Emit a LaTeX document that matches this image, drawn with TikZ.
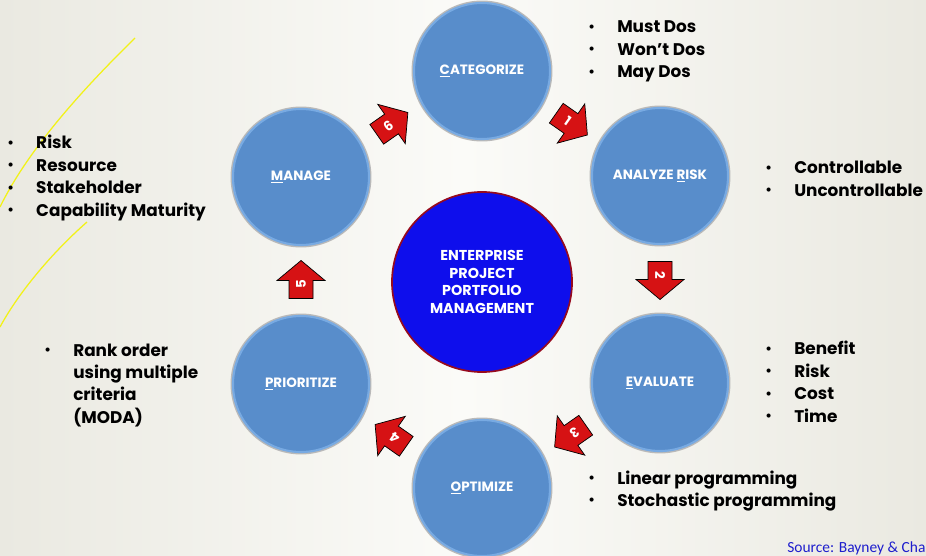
\documentclass[tikz,border=0pt]{standalone}
\usepackage{fontspec}
\setmainfont{Poppins}
\newfontfamily\srcfont{Carlito}
\usetikzlibrary{calc, positioning}

\definecolor{circblue}{RGB}{88,141,203}
\definecolor{circrim}{RGB}{120,170,226}
\definecolor{hubblue}{RGB}{14,14,236}
\definecolor{hubrim}{RGB}{150,10,30}
\definecolor{arrowred}{RGB}{214,18,20}
\definecolor{bgedge}{RGB}{234,233,225}
\definecolor{bgmid}{RGB}{251,251,248}
\definecolor{srcblue}{RGB}{30,30,205}
\definecolor{marker}{RGB}{242,242,24}

\newcommand{\notedot}{\raisebox{0.15ex}{\fontsize{9.5}{9.5}\selectfont\textbullet}}

\tikzset{
  stage/.style={circle, minimum size=3.4cm, inner sep=0pt, fill=circblue,
    draw=circrim, line width=1.5pt, preaction={draw=gray!55, line width=3.5pt},
    text=white, font=\fontsize{9.6}{11}\selectfont\bfseries},
  hub/.style={circle, minimum size=4.5cm, inner sep=0pt, fill=hubblue,
    draw=hubrim, line width=1.2pt, text=white, align=center,
    font=\fontsize{10.2}{12.6}\selectfont\bfseries},
  notes/.style={anchor=base west, inner sep=0pt,
    font=\fontsize{12}{15.9}\selectfont\bfseries},
  blockarrow/.pic={
    \draw[fill=arrowred, draw=black, line width=0.5pt]
      (-18,-12) -- (0,-12) -- (0,-24) -- (20,0) -- (0,24) -- (0,12) -- (-18,12) -- cycle;
    \node[text=white, transform shape, font=\fontsize{9.5}{10}\selectfont\bfseries] at (-4,0) {#1};
  }
}

\begin{document}
\begin{tikzpicture}[x=0.025cm, y=0.025cm]
    \useasboundingbox (0,0) rectangle (926,-556);
    \clip (0,0) rectangle (926,-556);
    \fill[left color=bgedge, right color=bgedge, middle color=bgmid] (0,0) rectangle (926,-556);

    % marker strokes
    \draw[marker, line width=0.9pt] (135,-38) .. controls (80,-92) and (28,-150) .. (0,-207);
    \draw[marker, line width=0.9pt] (87,-222) .. controls (55,-250) and (20,-290) .. (0,-327);

    % cycle
    \node[hub] (epm) at (482,-282) {ENTERPRISE\\PROJECT\\PORTFOLIO\\MANAGEMENT};
    \node[stage] (cat) at (482,-71) {\underline{C}ATEGORIZE};
    \node[stage] (ana) at (660,-176) {ANALYZE \underline{R}ISK};
    \node[stage] (eva) at (660,-383) {\underline{E}VALUATE};
    \node[stage] (opt) at (482,-488) {\underline{O}PTIMIZE};
    \node[stage] (pri) at (301,-384) {\underline{P}RIORITIZE};
    \node[stage] (man) at (301,-177) {\underline{M}ANAGE};

    \pic[rotate=-35] at ($(cat)!0.5!(ana)$) {blockarrow=1};
    \pic[rotate=-90] at ($(ana)!0.5!(eva)$) {blockarrow=2};
    \pic[rotate=-145] at ($(eva)!0.5!(opt)$) {blockarrow=3};
    \pic[rotate=145] at ($(opt)!0.5!(pri)$) {blockarrow=4};
    \pic[rotate=90] at ($(pri)!0.5!(man)$) {blockarrow=5};
    \pic[rotate=35] at ($(man)!0.5!(cat)$) {blockarrow=6};

    % notes
    \node[notes] (catnote) at (588,-33) {\begin{tabular}[t]{@{}p{20.6pt}@{}l@{}}
      \notedot & Must Dos\\ \notedot & Won’t Dos\\ \notedot & May Dos\end{tabular}};
    \node[notes] (mannote) at (7,-149) {\begin{tabular}[t]{@{}p{20.6pt}@{}l@{}}
      \notedot & Risk\\ \notedot & Resource\\ \notedot & Stakeholder\\
      \notedot & Capability Maturity\end{tabular}};
    \node[notes] (ananote) at (765,-174) {\begin{tabular}[t]{@{}p{20.6pt}@{}l@{}}
      \notedot & Controllable\\ \notedot & Uncontrollable\end{tabular}};
    \node[notes] (evanote) at (765,-355) {\begin{tabular}[t]{@{}p{20.6pt}@{}l@{}}
      \notedot & Benefit\\ \notedot & Risk\\ \notedot & Cost\\
      \notedot & Time\end{tabular}};
    \node[notes] (optnote) at (588,-484) {\begin{tabular}[t]{@{}p{20.6pt}@{}l@{}}
      \notedot & Linear programming\\ \notedot & Stochastic programming\end{tabular}};
    \node[notes] (prinote) at (44,-356) {\begin{tabular}[t]{@{}p{20.6pt}@{}l@{}}
      \notedot & Rank order\\ & using multiple\\ & criteria\\ & (MODA)\end{tabular}};

    \node[anchor=base west, inner sep=0pt, text=srcblue, font=\srcfont\fontsize{11}{13}\selectfont]
      (src) at (787,-552) {Source: Bayney \& Cha};
\end{tikzpicture}
\end{document}
